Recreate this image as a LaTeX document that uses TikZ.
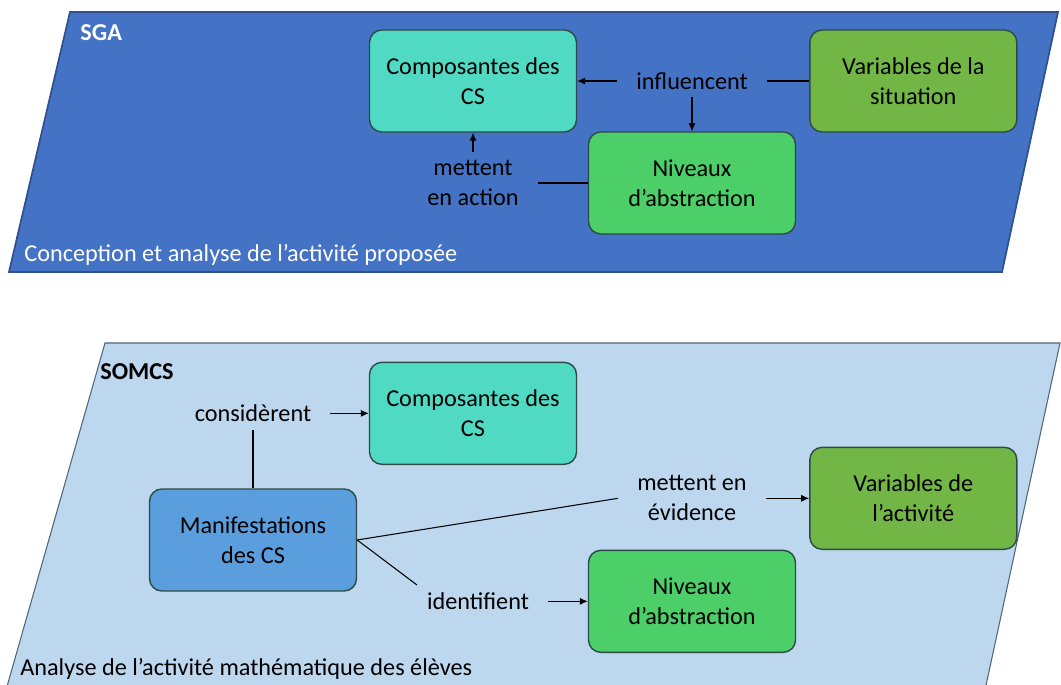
\documentclass[tikz,border=0pt]{standalone}
\usepackage{fontspec}
\setmainfont{Carlito}
\usepackage{xcolor}
\usepackage{tikz}
\usetikzlibrary{arrows.meta}
\usetikzlibrary{positioning}
\definecolor{bleuSGA}{RGB}{68,114,196}
\definecolor{bordSGA}{RGB}{47,82,143}
\definecolor{bleuSOMCS}{RGB}{189,215,238}
\definecolor{bordSOMCS}{RGB}{80,100,125}
\definecolor{turquoise}{RGB}{80,218,196}
\definecolor{vertvar}{RGB}{114,182,70}
\definecolor{vertniv}{RGB}{76,206,104}
\definecolor{bleuman}{RGB}{90,158,222}
\definecolor{bordbloc}{RGB}{45,75,70}
\tikzset{
  bloc/.style={draw=bordbloc, line width=0.8pt, rounded corners=7pt, fill=#1, align=center,
    minimum width=4.14cm, minimum height=2.04cm, font=\fontsize{13.8}{17}\selectfont},
  etiq/.style={align=center, inner xsep=0.38cm, inner ysep=0.15cm, font=\fontsize{13.8}{17}\selectfont},
  titre/.style={anchor=west, inner sep=0pt, font=\fontsize{13.8}{17}\selectfont},
  fleche/.style={-{Latex[length=4.5pt,width=4pt]}, line width=0.6pt},
  lien/.style={line width=0.6pt},
}

\begin{document}
\begin{tikzpicture}[x=0.02cm, y=-0.02cm]
  \useasboundingbox (0,0) rectangle (1061,685);
  \draw[fill=bleuSGA, draw=bordSGA, line width=1pt] (70,12) -- (1058,12) -- (1002,272) -- (9,272) -- cycle;
  \draw[fill=bleuSOMCS, draw=bordSOMCS, line width=0.6pt] (105,343) -- (1060,343) -- (985,690) -- (6,690) -- cycle;
  \node[titre, font=\fontsize{13.8}{17}\selectfont\bfseries, text=white] (sga) at (80,33) {SGA};
  \node[titre, text=white] (conc) at (24,255) {Conception et analyse de l’activité proposée};
  \node[titre, font=\fontsize{13.8}{17}\selectfont\bfseries] (somcs) at (100,372) {SOMCS};
  \node[titre] (anal) at (20,669) {Analyse de l’activité mathématique des élèves};
  \node[bloc=turquoise] (c1) at (473,81) {Composantes des\\CS};
  \node[bloc=vertvar, right=4.64cm of c1] (v1) {Variables de la\\situation};
  \node[bloc=vertniv] (n1) at (692,183) {Niveaux\\d’abstraction};
  \node[etiq] (i1) at (n1 |- c1) {influencent};
  \node[etiq] (m1) at (c1 |- n1) {mettent\\en action};
  \draw[lien] (v1) -- (i1); \draw[fleche] (i1) -- (c1); \draw[fleche] (i1) -- (n1);
  \draw[lien] (n1) -- (m1); \draw[fleche] (m1) -- (c1);
  \node[bloc=turquoise, below=4.58cm of c1] (c2) {Composantes des\\CS};
  \node[bloc=vertvar, below=6.28cm of v1] (v2) {Variables de\\l’activité};
  \node[bloc=vertniv, below=6.3cm of n1] (n2) {Niveaux\\d’abstraction};
  \node[bloc=bleuman] (man) at (253,540) {Manifestations\\des CS};
  \node[etiq] (co) at (man |- c2) {considèrent};
  \node[etiq] (e2) at (n2 |- v2) {mettent en\\évidence};
  \node[etiq, xshift=0.1cm] (id) at (c2 |- n2) {identifient};
  \draw[lien] (man) -- (co); \draw[fleche] (co) -- (c2);
  \draw[lien] (man.east) -- (e2.west); \draw[fleche] (e2) -- (v2);
  \draw[lien] (man.east) -- (id.165); \draw[fleche] (id) -- (n2);
\end{tikzpicture}
\end{document}
